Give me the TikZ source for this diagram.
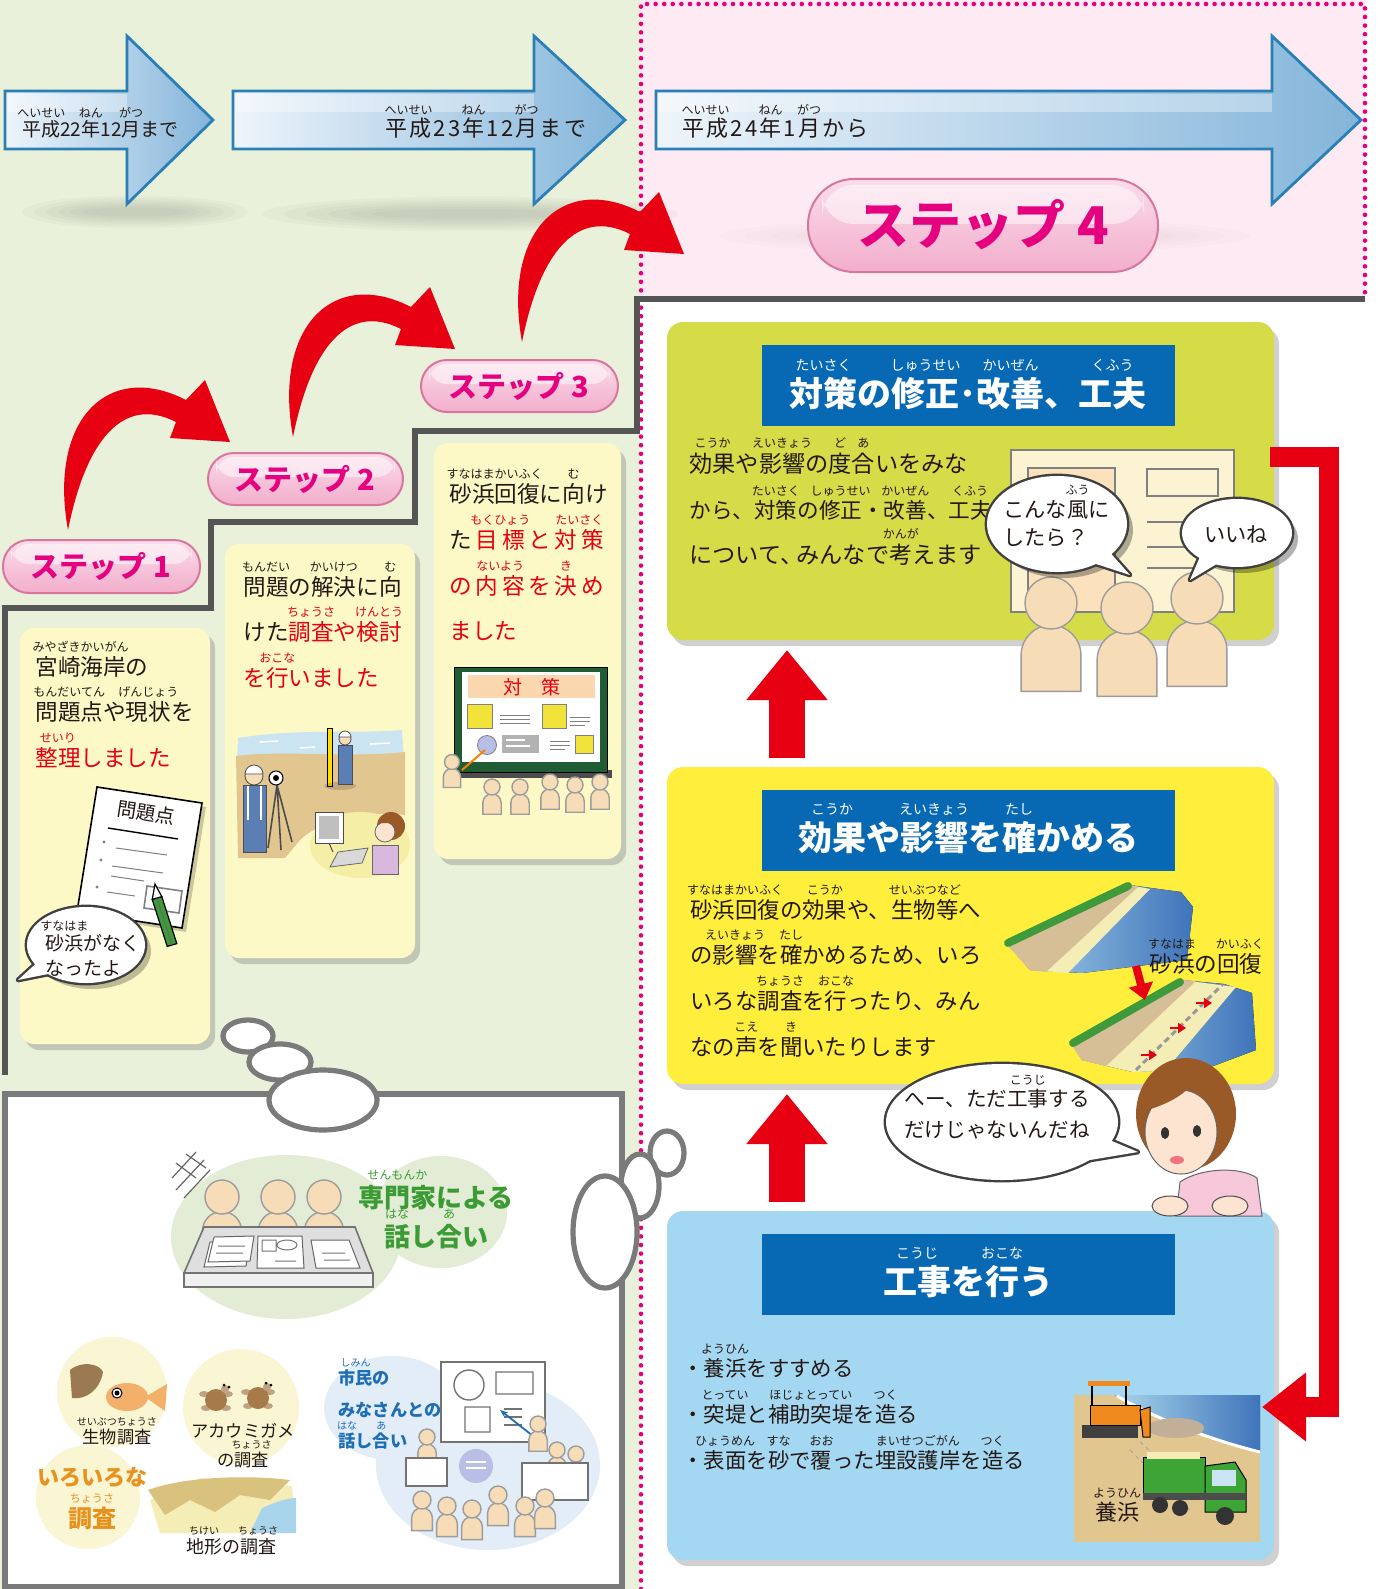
\documentclass[tikz,border=0pt]{standalone}
\usepackage{fontspec}
\setmainfont{Noto Sans CJK JP}
\usetikzlibrary{fit,shadows,arrows.meta}

\definecolor{bgGreen}{HTML}{E9F1DA}
\definecolor{bgPink}{HTML}{FDEAF3}
\definecolor{dotMag}{HTML}{E4007F}
\definecolor{stairGray}{HTML}{555555}
\definecolor{stepYellow}{HTML}{FDF9C6}
\definecolor{boxAcol}{HTML}{D5DC47}
\definecolor{boxBcol}{HTML}{FFEF3C}
\definecolor{boxCcol}{HTML}{A4D8F2}
\definecolor{hdrBlue}{HTML}{0768B4}
\definecolor{redA}{HTML}{E60012}
\definecolor{txt}{HTML}{231815}
\definecolor{arBorder}{HTML}{2A7FB6}
\definecolor{arLight}{HTML}{EEF5FB}
\definecolor{arDark}{HTML}{84B5DA}
\definecolor{pkTop}{HTML}{FBDCEA}
\definecolor{pkBot}{HTML}{F2AECB}
\definecolor{pkLine}{HTML}{D7779F}
\definecolor{magTxt}{HTML}{E4007F}
\definecolor{skin}{HTML}{F6DDB8}
\definecolor{skinB}{HTML}{FCE4D0}
\definecolor{skinLine}{HTML}{9C9C9C}
\definecolor{panelGray}{HTML}{7A7A7A}
\definecolor{greenTxt}{HTML}{3C9B35}
\definecolor{orangeTxt}{HTML}{E8921E}
\definecolor{blueTxt}{HTML}{1E6EB6}
\definecolor{sand}{HTML}{E2C690}
\definecolor{paleSand}{HTML}{F4EDB6}
\definecolor{tanSand}{HTML}{D6BE96}
\definecolor{seaLight}{HTML}{A8D5EC}
\definecolor{seaDark}{HTML}{3F74BA}
\definecolor{grass}{HTML}{3E9A3A}
\definecolor{boardGreen}{HTML}{1F5C34}
\definecolor{hair}{HTML}{9A5A28}
\definecolor{shirt}{HTML}{F7C7DA}
\definecolor{workBlue}{HTML}{5B7FB5}
\definecolor{skyB}{HTML}{CBE4F1}
\definecolor{blobY}{HTML}{F5EEA6}
\definecolor{lavender}{HTML}{D9B8E0}
\definecolor{expGreen}{HTML}{E3EDD6}
\definecolor{citBlue}{HTML}{E2EDF8}
\definecolor{circYellow}{HTML}{FAF5D2}
\definecolor{fishOr}{HTML}{F2B06A}
\definecolor{shell}{HTML}{9B7A52}
\definecolor{turtle}{HTML}{A77A4A}
\definecolor{cliff}{HTML}{D8C27E}
\definecolor{boardCream}{HTML}{FCF3D2}
\definecolor{yelSq}{HTML}{F2E33A}
\definecolor{peach}{HTML}{FAD7AF}
\definecolor{talk}{HTML}{B9BEE6}
\definecolor{dozer}{HTML}{F08A1E}
\definecolor{truck}{HTML}{3DA535}

% ruby (furigana) set centred above its base text
\newsavebox\rbbox
\newcommand\rbfont{\mdseries\fontsize{6}{6}\selectfont}
\newcommand\rb[2]{\sbox\rbbox{#1}\leavevmode\rlap{\raisebox{1.04em}[0pt][0pt]{\makebox[\wd\rbbox][c]{\rbfont #2}}}\usebox\rbbox}
\newcommand\fs[1]{\fontsize{#1}{#1}\selectfont}
\newcommand\tten{、\kern-.3em}
\newcommand\ks{\kern.1em}
% speech balloon: body and tail share one outline
\newcommand\balloon[3][2.4pt]{%
 \path[draw=black!75, line width=#1, fill=white, line join=round] #2;
 \path[draw=black!75, line width=#1, fill=white, line join=round] #3;
 \fill[white] #2;
 \fill[white] #3;}

\tikzset{
 tx/.style={anchor=base west, inner sep=0pt, text=txt, font=\fs{11.3}},
 txc/.style={anchor=base, inner sep=0pt, text=txt},
 arrowbody/.style={draw=arBorder, line width=1.4pt, left color=arLight, right color=arDark, line join=miter},
 dotline/.style={draw=dotMag, line width=2.3pt, line cap=round, dash pattern=on 0pt off 4.3pt},
 stair/.style={draw=stairGray, line width=3.4pt, line join=miter},
 stepbox/.style={fill=stepYellow, rounded corners=7pt, inner sep=0pt, drop shadow={shadow xshift=2.5pt, shadow yshift=-3pt, opacity=.3, fill=black!60}},
 bigbox/.style={rounded corners=8pt, inner sep=0pt, drop shadow={shadow xshift=2.5pt, shadow yshift=-3pt, opacity=.3, fill=black!60}},
 header/.style={fill=hdrBlue, inner sep=0pt},
 pill/.style={draw=pkLine, line width=1pt, top color=pkTop, bottom color=pkBot, inner sep=0pt},
 pilltext/.style={anchor=base, inner sep=0pt, text=magTxt},
 thought/.style={draw=panelGray, line width=2.6pt, fill=white},
 panel/.style={draw=panelGray, line width=3pt, fill=white, inner sep=0pt},
 fbline/.style={draw=redA, line width=10pt, line join=miter, -{Triangle[length=22pt,width=33pt]}},
 uparrow/.style={draw=redA, line width=18pt, -{Triangle[length=25pt,width=39pt]}},
 person/.pic={
  \path[draw=skinLine, fill=skin, line width=.7pt] (-1.15,3.4) -- (-1.15,2.0) arc[start angle=180, end angle=360, radius=1.15] -- (1.15,3.4) -- cycle;
  \path[draw=skinLine, fill=skin, line width=.7pt] (0,0) circle[radius=1];
 },
 crescent/.pic={
  \fill[redA] (0,0) .. controls (-20,-110) and (40,-170) .. (118,-130) -- (137,-150) -- (162,-88) -- (102,-92) -- (108,-108) .. controls (55,-135) and (18,-90) .. (0,0) -- cycle;
 }
}

\begin{document}
\begin{tikzpicture}[x=0.5pt,y=-0.5pt]
\useasboundingbox (0,0) rectangle (1377,1589);
\fill[white] (0,0) rectangle (1377,1589);
\fill[bgGreen] (0,0) rectangle (640,1589);
\fill[bgPink] (640,0) rectangle (1365,299);

% soft shadows under the time arrows and the step-4 pill
\foreach \k in {1,...,6}{
  \fill[black,opacity=.022] (135,212) ellipse ({125-12*\k} and {19-2.4*\k});
  \fill[black,opacity=.022] (470,214) ellipse ({230-22*\k} and {20-2.5*\k});
  \fill[black,opacity=.012] (985,236) ellipse ({290-25*\k} and {20-2.5*\k});
}

% time arrows
\foreach \xa/\xb/\xc in {5/127/213, 233/534/625, 656/1272/1361}{
  \path[arrowbody] (\xa,91) -- (\xb,91) -- (\xb,36) -- (\xc,120) -- (\xb,204) -- (\xb,149) -- (\xa,149) -- cycle;
  \fill[white,opacity=.35] (\xa+3,94) rectangle (\xb,112);
}
\node[tx, font=\fs{9.5}] (ta1) at (22,137) {\rb{平成}{へいせい}22\rb{年}{ねん}12\rb{月}{がつ}まで};
\node[tx, font=\fs{11}] (ta2) at (385,137) {\rb{平\ks 成}{へいせい}\ks 2\ks 3\ks\rb{年}{ねん}\ks 1\ks 2\ks\rb{月}{がつ}\ks ま\ks で};
\node[tx, font=\fs{11}] (ta3) at (682,137) {\rb{平\ks 成}{へいせい}\ks 2\ks 4\ks\rb{年}{ねん}\ks 1\ks\rb{月}{がつ}\ks か\ks ら};

% dotted frame of the current phase and the stair line
\draw[dotline] (641,1589) -- (641,4) -- (1365,4) -- (1365,299);
\draw[stair] (5,1075) -- (5,608) -- (211,608) -- (211,522) -- (415,522) -- (415,431) -- (637,431) -- (637,299) -- (1365,299);

% step pills
\node[pill, rounded corners=23pt, fit={(808,179) (1158,272)}] (st4) {};
\fill[white,opacity=.5,rounded corners=16pt] (822,185) rectangle (1144,224);
\node[pilltext, font=\bfseries\fs{26}] (st4t) at (983,245) {ステップ 4};
\foreach \xa/\ya/\xb/\yb/\nm in {421/360/618/412/st3, 208/453/403/505/st2, 3/540/200/593/st1}{
  \node[pill, rounded corners=13pt, fit={(\xa,\ya) (\xb,\yb)}] (\nm) {};
  \fill[white,opacity=.5,rounded corners=9pt] (\xa+8,\ya+4) rectangle (\xb-8,\ya+24);
}
\node[pilltext, font=\bfseries\fs{14.5}] (st3t) at (519,397) {ステップ 3};
\node[pilltext, font=\bfseries\fs{14.5}] (st2t) at (305,490) {ステップ 2};
\node[pilltext, font=\bfseries\fs{14.5}] (st1t) at (101,577) {ステップ 1};

% curved red arrows between the steps
\pic at (68,530) {crescent};
\pic at (293,437) {crescent};
\pic at (522,342) {crescent};

% ---------- step boxes ----------
\node[stepbox, fit={(20,628) (210,1044)}] (s1) {};
\node[stepbox, fit={(225,544) (415,958)}] (s2) {};
\node[stepbox, fit={(434,443) (621,859)}] (s3) {};

\node[tx] (s1a) at (35,675) {\rb{宮崎海岸}{みやざきかいがん}の};
\node[tx] (s1b) at (35,720) {\rb{問題点}{もんだいてん}や\rb{現状}{げんじょう}を};
\node[tx, text=redA] (s1c) at (35,766) {\rb{整理}{せいり}しました};

\node[tx] (s2a) at (243,595) {\rb{問題}{もんだい}の\rb{解決}{かいけつ}に\rb{向}{む}};
\node[tx] (s2b) at (243,640) {けた\textcolor{redA}{\rb{調査}{ちょうさ}や\rb{検討}{けんとう}}};
\node[tx, text=redA] (s2c) at (243,686) {を\rb{行}{おこな}いました};

\node[tx] (s3a) at (449,502) {\rb{砂浜回復}{すなはまかいふく}に\rb{向}{む}け};
\node[tx] (s3b) at (449,548) {た\,\textcolor{redA}{\rb{目\,標}{もくひょう}\,と\,\rb{対\,策}{たいさく}}};
\node[tx, text=redA] (s3c) at (449,594) {の\,\rb{内\,容}{ないよう}\,を\,\rb{決}{き}\,め};
\node[tx, text=redA] (s3d) at (449,639) {ました};

% step 1: problem sheet, pencil and balloon
\fill[black,opacity=.2] (101,791) -- (206,807) -- (186,932) -- (81,916) -- cycle;
\filldraw[fill=white, draw=black, line width=.8pt] (97,787) -- (202,803) -- (182,928) -- (77,912) -- cycle;
\node[rotate=-8.7, inner sep=0pt, text=txt, font=\fs{9.7}] (mondai) at (146,813) {問題点};
\draw[black, line width=.7pt] (108,828) -- (178,839);
\foreach \px/\py in {104/842,101/860,97/887}{\fill[gray] (\px,\py) circle (1.6);}
\draw[gray, line width=.5pt] (116,848) -- (167,855) (112,866) -- (163,873) (111,876) -- (144,881) (107,892) -- (135,896);
\draw[gray, line width=.8pt] (147,886) -- (182,891) -- (179,913) -- (144,908) -- cycle;
\filldraw[fill=grass, draw=black, line width=.6pt] (161.8,896.6) -- (176.8,943.6) -- (167.2,946.4) -- (152.2,899.4) -- cycle;
\filldraw[fill=white, draw=black, line width=.6pt] (155,884) -- (161.8,896.6) -- (152.2,899.4) -- cycle;
\draw[black!60, line width=.4pt] (157,898) -- (172,945);
\fill[black,opacity=.25] (92,951) ellipse (59 and 38);
\balloon{(86,945) ellipse (59 and 38)}{(42,958) -- (18,980) -- (58,972) -- cycle}
\node[tx, font=\fs{9.5}] (s1bl1) at (45,950) {\rb{砂浜}{すなはま}がなく};
\node[tx, font=\fs{9.5}] (s1bl2) at (45,975) {なったよ};

% step 2: survey scene
\fill[skyB] (238,738) .. controls (300,728) and (360,734) .. (402,730) -- (404,762) -- (237,765) -- cycle;
\draw[white, line width=.8pt] (260,742) -- (278,741) (300,748) -- (315,747) (370,744) -- (390,743);
\fill[sand] (236,756) .. controls (280,750) and (350,758) .. (405,752) -- (405,815) .. controls (370,810) and (320,820) .. (300,840) -- (285,858) -- (238,858) -- cycle;
\fill[blobY] (360,845) ellipse (50 and 33);
\filldraw[fill=yellow!80!orange, draw=black, line width=.4pt] (327,728) rectangle (332,786);
\fill[black,opacity=.15] (340,786) ellipse (16 and 4);
\filldraw[fill=workBlue, draw=black!70, line width=.4pt] (338,745) rectangle (352,784);
\filldraw[fill=skin, draw=black!70, line width=.4pt] (345,739) circle (6);
\filldraw[fill=white, draw=black!70, line width=.4pt] (339,737) arc (180:360:6) -- cycle;
\draw[black!70, line width=.8pt] (277,785) -- (268,848) (277,785) -- (281,850) (277,785) -- (292,842);
\filldraw[fill=workBlue, draw=black!70, line width=.4pt] (243,785) rectangle (266,852);
\draw[white, line width=1.2pt] (248,786) -- (248,820) (261,786) -- (261,820);
\filldraw[fill=skin, draw=black!70, line width=.4pt] (254,776) circle (9);
\filldraw[fill=white, draw=black!70, line width=.4pt] (245,774) arc (180:360:9) -- cycle;
\filldraw[fill=white, draw=black, line width=.5pt] (276,778) circle (7);
\fill[black] (276,778) circle (3);
\filldraw[fill=white, draw=black!70, line width=.5pt] (315,812) rectangle (343,843);
\fill[gray!50] (319,816) rectangle (339,839);
\draw[black!70, line width=.5pt] (329,843) -- (333,852);
\filldraw[fill=gray!30, draw=black!60, line width=.4pt] (338,852) -- (368,848) -- (362,863) -- (330,867) -- cycle;
\filldraw[fill=lavender, draw=black!60, line width=.4pt] (372,845) rectangle (398,874);
\fill[hair] (391,826) circle (14);
\filldraw[fill=skinB, draw=black!60, line width=.4pt] (385,832) circle (10);
\fill[hair] (378,823) arc (180:360:9) -- cycle;

% step 3: presentation board and audience
\fill[black!70] (454,770) rectangle (612,778);
\filldraw[fill=boardGreen, draw=black, line width=.5pt] (454,667) rectangle (607,772);
\fill[white] (462,672) rectangle (600,762);
\fill[peach] (468,675) rectangle (595,698);
\node[inner sep=0pt, text=redA, font=\fs{9.5}] (taisaku) at (532,687) {対\quad 策};
\filldraw[fill=yelSq, draw=gray, line width=.4pt] (467,704) rectangle (492,728);
\filldraw[fill=yelSq, draw=gray, line width=.4pt] (542,704) rectangle (566,728);
\filldraw[fill=yelSq, draw=gray, line width=.4pt] (575,735) rectangle (593,753);
\draw[gray, line width=.5pt] (500,715) -- (530,715) (500,719) -- (530,719) (500,723) -- (530,723)
  (570,717) -- (590,717) (570,721) -- (590,721) (570,725) -- (585,725)
  (550,741) -- (570,741) (550,745) -- (570,745) (550,749) -- (565,749);
\fill[gray!60] (502,735) rectangle (539,753);
\draw[white, line width=.8pt] (506,740) -- (525,740) (506,746) -- (530,746);
\filldraw[fill=talk, draw=gray, line width=.4pt] (487,745) circle (9.5);
\draw[orange, line width=1pt] (462,770) -- (485,750);
\pic[scale=7.5] at (452,762) {person};
\foreach \px/\py in {492/787,520/787,550/782,575/785,600/782}{\pic[scale=8] at (\px,\py) {person};}

% ---------- thought bubbles and the bottom panel ----------
\node[panel, fit={(5,1094) (622,1587)}] (pan) {};
\path[thought] (248,1036) ellipse (25 and 16);
\path[thought] (280,1062) ellipse (31 and 18);
\path[thought] (323,1100) ellipse (54 and 30);
\path[thought] (667,1153) ellipse (17 and 22);
\path[thought] (640,1186) ellipse (19 and 32);
\path[thought] (605,1232) ellipse (32 and 56);

% expert meeting
\fill[expGreen] (286,1237) ellipse (115 and 82);
\fill[expGreen] (441,1212) ellipse (66 and 56);
\draw[black!60, line width=.6pt] (176,1190) -- (204,1160) (184,1198) -- (210,1170) (172,1178) -- (196,1152)
  (176,1163) -- (196,1178) (186,1154) -- (206,1168);
\foreach \px in {222,278,324}{\pic[scale=17] at (\px,1197) {person};}
\filldraw[fill=gray!25, draw=black!55, line width=.8pt] (204,1227) -- (355,1227) -- (373,1273) -- (184,1273) -- cycle;
\filldraw[fill=gray!12, draw=black!55, line width=.8pt] (184,1273) rectangle (373,1287);
\filldraw[fill=white, draw=black!60, line width=.5pt] (210,1242) -- (250,1241) -- (246,1266) -- (204,1267) -- cycle;
\filldraw[fill=white, draw=black!60, line width=.5pt] (214,1237) -- (254,1236) -- (250,1261) -- (208,1262) -- cycle;
\filldraw[fill=white, draw=black!60, line width=.5pt] (258,1236) -- (302,1236) -- (304,1268) -- (257,1268) -- cycle;
\filldraw[fill=white, draw=black!60, line width=.5pt] (311,1240) -- (349,1240) -- (360,1268) -- (316,1268) -- cycle;
\draw[black!55, line width=.5pt] (218,1246) -- (245,1246) (216,1253) -- (243,1253) (262,1240) rectangle (276,1251)
  (287,1245) ellipse (10 and 5) (275,1261) -- (296,1261) (322,1253) -- (345,1253) (324,1260) -- (350,1260);
\node[txc, text=greenTxt, font=\bfseries\fs{13}] (ex1) at (436,1207) {\rb{専門家}{せんもんか}による};
\node[txc, text=greenTxt, font=\bfseries\fs{13}] (ex2) at (436,1246) {\rb{話}{はな}し\rb{合}{あ}い};

% various surveys
\fill[circYellow] (112,1392) circle (55);
\fill[circYellow] (241,1407) circle (58);
\fill[circYellow] (88,1497) circle (52);
\fill[shell] (70,1370) .. controls (82,1360) and (100,1364) .. (103,1372) .. controls (100,1390) and (86,1400) .. (72,1398) -- cycle;
\fill[fishOr] (127,1397) ellipse (21 and 14);
\fill[fishOr] (145,1397) -- (167,1384) -- (165,1411) -- cycle;
\filldraw[fill=white, draw=black, line width=.5pt] (117,1393) circle (5);
\fill[black] (117,1393) circle (2.5);
\foreach \tx/\ty in {216/1400,258/1398}{
  \fill[turtle!70] (\tx-12,\ty-6) ellipse (5 and 3) (\tx+12,\ty-6) ellipse (5 and 3) (\tx-10,\ty+8) ellipse (5 and 3) (\tx+10,\ty+8) ellipse (5 and 3);
  \fill[turtle] (\tx,\ty) circle (11);
  \fill[turtle!70] (\tx+9,\ty-11) circle (4);
  \fill[black] (\tx+8,\ty-15) circle (1.5) (\tx+13,\ty-13) circle (1.5);
}
\fill[paleSand] (150,1500) -- (200,1478) -- (292,1486) -- (296,1533) -- (160,1533) -- cycle;
\fill[cliff] (148,1490) .. controls (180,1478) and (240,1474) .. (290,1480) -- (270,1500) -- (240,1495) -- (215,1512) -- (190,1500) -- (165,1515) -- cycle;
\fill[seaLight] (262,1508) .. controls (280,1500) and (290,1498) .. (296,1498) -- (296,1533) -- (250,1533) -- cycle;
\node[txc, font=\fs{8.6}] (sv1) at (117,1443) {\renewcommand\rbfont{\mdseries\fs{5}}\rb{生物調査}{せいぶつちょうさ}};
\node[txc, font=\fs{8.6}] (sv2) at (243,1437) {アカウミガメ};
\node[txc, font=\fs{8.6}] (sv3) at (243,1466) {\renewcommand\rbfont{\mdseries\fs{5}}の\rb{調査}{ちょうさ}};
\node[txc, text=orangeTxt, font=\bfseries\fs{11}] (sv4) at (92,1485) {いろいろな};
\node[txc, text=orangeTxt, font=\bfseries\fs{12}] (sv5) at (92,1527) {\renewcommand\rbfont{\mdseries\fs{5.5}}\rb{調査}{ちょうさ}};
\node[txc, font=\fs{9}] (sv6) at (231,1553) {\renewcommand\rbfont{\mdseries\fs{5}}\rb{地形}{ちけい}の\rb{調査}{ちょうさ}};

% citizens' meeting
\fill[citBlue] (392,1408) ellipse (68 and 52);
\fill[citBlue] (488,1465) ellipse (112 and 85);
\filldraw[fill=white, draw=black!55, line width=.8pt] (441,1362) rectangle (545,1442);
\draw[black!55, line width=.7pt] (469,1385) circle (15) (496,1372) rectangle (533,1394) (465,1407) rectangle (490,1432);
\draw[black!55, line width=.6pt] (504,1409) -- (522,1409) (504,1417) -- (522,1417) (504,1425) -- (522,1425);
\draw[blueTxt, line width=.9pt, -{Stealth[length=4pt]}] (533,1436) -- (500,1410);
\pic[scale=8] at (538,1424) {person};
\pic[scale=8] at (557,1450) {person};
\pic[scale=8] at (576,1454) {person};
\filldraw[fill=white, draw=black!55, line width=.7pt] (522,1463) rectangle (588,1500);
\pic[scale=8] at (427,1437) {person};
\filldraw[fill=white, draw=black!55, line width=.7pt] (406,1458) rectangle (447,1486);
\fill[talk] (476,1466) circle (17);
\draw[white, line width=.6pt] (466,1462) -- (486,1462) (466,1468) -- (486,1468);
\foreach \px/\py in {422/1500,447/1506,472/1509,498/1495,525/1506,545/1498}{\pic[scale=9] at (\px,\py) {person};}
\node[tx, text=blueTxt, font=\bfseries\fs{8.6}] (ct1) at (338,1384) {\renewcommand\rbfont{\mdseries\fs{5}}\rb{市民}{しみん}の};
\node[tx, text=blueTxt, font=\bfseries\fs{8.6}] (ct2) at (338,1416) {みなさんとの};
\node[tx, text=blueTxt, font=\bfseries\fs{8.6}] (ct3) at (338,1447) {\renewcommand\rbfont{\mdseries\fs{5}}\rb{話}{はな}し\rb{合}{あ}い};

% ---------- step 4 cycle ----------
\node[bigbox, fill=boxAcol, fit={(667,322) (1274,640)}] (boxA) {};
\node[bigbox, fill=boxBcol, fit={(667,767) (1274,1084)}] (boxB) {};
\node[bigbox, fill=boxCcol, fit={(667,1211) (1274,1560)}] (boxC) {};
\node[header, fit={(762,345) (1175,426)}] (hA) {};
\node[header, fit={(762,790) (1175,871)}] (hB) {};
\node[header, fit={(762,1234) (1175,1315)}] (hC) {};
\node[txc, text=white, font=\bfseries\fs{17}] (hAt) at (968,406) {\renewcommand\rbfont{\mdseries\fs{7}}\rb{対策}{たいさく}の\rb{修正}{しゅうせい}･\rb{改善}{かいぜん}、\rb{工夫}{くふう}};
\node[txc, text=white, font=\bfseries\fs{17}] (hBt) at (968,850) {\renewcommand\rbfont{\mdseries\fs{7}}\rb{効果}{こうか}や\rb{影響}{えいきょう}を\rb{確}{たし}かめる};
\node[txc, text=white, font=\bfseries\fs{17}] (hCt) at (968,1294) {\renewcommand\rbfont{\mdseries\fs{7}}\rb{工事}{こうじ}を\rb{行}{おこな}う};

\node[tx, font=\fs{11.6}] (aa) at (689,472) {\rb{効果}{こうか}や\rb{影響}{えいきょう}の\rb{度}{ど}\rb{合}{あ}いをみな};
\node[tx, font=\fs{10.8}] (ab) at (689,518) {から、\rb{対策}{たいさく}の\rb{修正}{しゅうせい}・\rb{改善}{かいぜん}、\rb{工夫}{くふう}};
\node[tx, font=\fs{11.6}] (ac) at (689,563) {について\tten みんなで\rb{考}{かんが}えます};

\node[tx, font=\fs{11.2}] (ba) at (690,918) {\rb{砂浜回復}{すなはまかいふく}の\rb{効果}{こうか}や、\rb{生物等}{せいぶつなど}へ};
\node[tx, font=\fs{11.2}] (bb) at (690,963) {の\rb{影響}{えいきょう}を\rb{確}{たし}かめるため、いろ};
\node[tx, font=\fs{11.2}] (bc) at (690,1009) {いろな\rb{調査}{ちょうさ}を\rb{行}{おこな}ったり、みん};
\node[tx, font=\fs{11.2}] (bd) at (690,1055) {なの\rb{声}{こえ}を\rb{聞}{き}いたりします};

\node[tx, font=\fs{10.7}] (ca) at (682,1376) {・\rb{養浜}{ようひん}をすすめる};
\node[tx, font=\fs{10.7}] (cb) at (682,1422) {・\rb{突堤}{とってい}と\rb{補助突堤}{ほじょとってい}を\rb{造}{つく}る};
\node[tx, font=\fs{10.7}] (cc) at (682,1468) {・\rb{表面}{ひょうめん}を\rb{砂}{すな}で\rb{覆}{おお}った\rb{埋設護岸}{まいせつごがん}を\rb{造}{つく}る};

% box A: discussion at the board
\filldraw[fill=boardCream, draw=gray, line width=1pt] (1011,450) rectangle (1234,612);
\filldraw[fill=peach!60!boardCream, draw=gray, line width=.8pt] (1028,468) rectangle (1115,612);
\draw[gray, line width=.8pt] (1147,469) rectangle (1218,496);
\draw[gray, line width=.8pt] (1147,522) -- (1200,522) (1147,547) -- (1200,547) (1147,568) -- (1200,568);
\foreach \px/\py in {1051/603,1127/608,1197/598}{\pic[scale=26] at (\px,\py) {person};}
\fill[black,opacity=.3] (1063,530) ellipse (70 and 48);
\balloon{(1057,524) ellipse (70 and 48)}{(1106,548) -- (1130,575) -- (1090,562) -- cycle}
\fill[black,opacity=.3] (1243,539) ellipse (55 and 34);
\balloon{(1237,533) ellipse (55 and 34)}{(1202,552) -- (1190,580) -- (1220,562) -- cycle}
\node[tx, font=\fs{10.6}] (bl1) at (1003,517) {こんな\rb{風}{ふう}に};
\node[tx, font=\fs{10.6}] (bl2) at (1003,545) {したら？};
\node[txc, font=\fs{10.6}] (bl3) at (1236,542) {いいね};

% box B: beach before and after
\fill[left color=seaLight, right color=seaDark] (1005,942) -- (1129,885) -- (1181,892) -- (1193,907) -- (1187,960) -- (1082,973) -- (1030,970) -- cycle;
\fill[paleSand] (1005,942) -- (1129,885) -- (1150,889) -- (1068,973) -- (1030,970) -- cycle;
\fill[tanSand] (1005,942) -- (1129,885) -- (1138,887) -- (1046,972) -- (1030,970) -- cycle;
\draw[grass, line width=4pt, line cap=round] (1008,943) -- (1128,886);
\fill[left color=seaLight, right color=seaDark] (1070,1042) -- (1181,980) -- (1224,984) -- (1252,993) -- (1256,1050) -- (1208,1068) -- (1133,1072) -- (1082,1060) -- cycle;
\fill[paleSand] (1070,1042) -- (1181,980) -- (1236,987) -- (1165,1071) -- (1133,1072) -- (1082,1060) -- cycle;
\fill[tanSand] (1070,1042) -- (1181,980) -- (1196,981) -- (1106,1066) -- (1082,1060) -- cycle;
\draw[grass, line width=4pt, line cap=round] (1073,1043) -- (1180,982);
\draw[gray!80, line width=1.5pt, dash pattern=on 3pt off 2pt] (1136,1070) -- (1222,985);
\foreach \ax/\ay in {1196/1003,1170/1028,1141/1055}{\draw[redA, line width=1.4pt, -{Triangle[length=4pt,width=5pt]}] (\ax,\ay) -- (\ax+16,\ay);}
\draw[redA, line width=4pt, -{Triangle[length=8pt,width=12pt]}] (1136,966) -- (1145,1000);
\node[txc, font=\fs{11.3}] (sunahama) at (1206,972) {\rb{砂浜}{すなはま}の\rb{回復}{かいふく}};

% box C: sand nourishment works
\begin{scope}
\clip (1074,1395) rectangle (1260,1542);
\fill[sand] (1074,1395) rectangle (1260,1542);
\fill[left color=seaLight, right color=seaDark] (1115,1395) -- (1260,1395) -- (1260,1452) .. controls (1215,1440) and (1160,1420) .. (1115,1395) -- cycle;
\draw[white, line width=1.5pt] (1117,1396) .. controls (1160,1421) and (1215,1441) .. (1260,1452);
\draw[gray!70, line width=.5pt, dash pattern=on 2pt off 2pt] (1140,1442) -- (1205,1500) (1130,1450) -- (1190,1510);
\end{scope}
\fill[shell!60] (1176,1428) ellipse (28 and 10);
\fill[black!75] (1082,1425) rectangle (1138,1438);
\filldraw[fill=dozer, draw=black, line width=.5pt] (1090,1405) rectangle (1140,1425);
\draw[black, line width=1pt] (1092,1405) -- (1092,1383) -- (1126,1383) -- (1126,1405);
\fill[dozer] (1088,1381) rectangle (1130,1386);
\filldraw[fill=dozer, draw=black, line width=.5pt] (1140,1410) -- (1150,1407) -- (1150,1437) -- (1143,1437) -- cycle;
\filldraw[fill=truck, draw=black, line width=.5pt] (1143,1457) rectangle (1205,1493);
\fill[paleSand] (1147,1452) rectangle (1200,1459);
\filldraw[fill=truck, draw=black, line width=.5pt] (1205,1466) -- (1235,1462) -- (1246,1480) -- (1246,1512) -- (1205,1512) -- cycle;
\fill[skyB] (1212,1470) rectangle (1236,1486);
\fill[black!70] (1143,1493) rectangle (1246,1500);
\foreach \wx/\wy/\wr in {1160/1505/8,1180/1508/8,1225/1516/9}{\fill[black!80] (\wx,\wy) circle ({\wr});}
\node[txc, font=\fs{11}] (yohin) at (1117,1520) {\rb{養浜}{ようひん}};

% connectors of the cycle
\coordinate (u1s) at (787,758);
\coordinate (u1e) at (787,650);
\coordinate (u2s) at (787,1202);
\coordinate (u2e) at (787,1094);
\draw[uparrow] (u1s) -- (u1e);
\draw[uparrow] (u2s) -- (u2e);
\coordinate (fb0) at (1270,457);
\coordinate (fb1) at (1329,457);
\coordinate (fb2) at (1329,1407);
\coordinate (fb3) at (1262,1407);
\draw[fbline] (fb0) -- (fb1) -- (fb2) -- (fb3);

% girl watching the works
\filldraw[fill=shirt, draw=black!60, line width=.5pt] (1176,1216) -- (1180,1182) .. controls (1200,1168) and (1240,1166) .. (1257,1178) -- (1262,1216) -- cycle;
\fill[hair] (1186,1114) ellipse (50 and 56);
\filldraw[fill=skinB, draw=black!60, line width=.5pt] (1181,1132) ellipse (36 and 42);
\fill[hair] (1140,1112) .. controls (1145,1060) and (1225,1055) .. (1234,1108) .. controls (1215,1100) and (1200,1088) .. (1195,1080) .. controls (1185,1097) and (1160,1107) .. (1140,1112) -- cycle;
\fill[black!80] (1165,1133) ellipse (4 and 6);
\fill[black!80] (1197,1131) ellipse (4 and 6);
\fill[redA!55] (1177,1160) ellipse (7 and 4);
\filldraw[fill=skinB, draw=black!70, line width=.5pt] (1170,1206) ellipse (18 and 10);
\filldraw[fill=skinB, draw=black!70, line width=.5pt] (1230,1206) ellipse (18 and 10);
\balloon{(1002,1122) ellipse (116 and 58)}{(1100,1136) -- (1138,1152) -- (1090,1160) -- cycle}
\node[txc, font=\fs{10.3}] (gl1) at (997,1106) {へー、ただ\rb{工事}{こうじ}する};
\node[txc, font=\fs{10.3}] (gl2) at (997,1137) {だけじゃないんだね};
\end{tikzpicture}
\end{document}
